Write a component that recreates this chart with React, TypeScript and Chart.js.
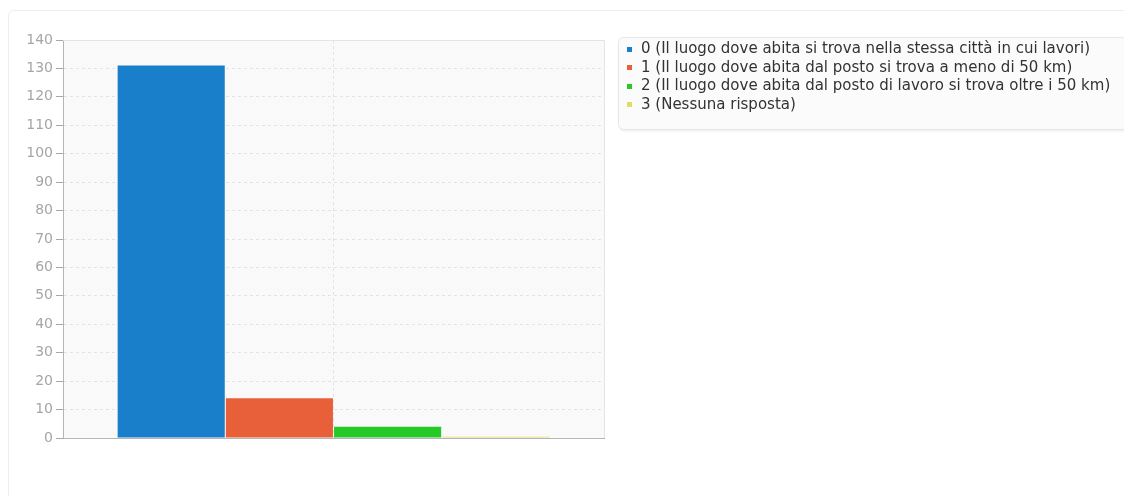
import React, { useEffect, useRef } from "react";
import { Chart, registerables } from "chart.js";

Chart.register(...registerables);

// Survey answers: distance between home and workplace
const categories = [""];
const seriesLabels = [
  "0 (Il luogo dove abita si trova nella stessa città in cui lavori)",
  "1 (Il luogo dove abita dal posto si trova a meno di 50 km)",
  "2 (Il luogo dove abita dal posto di lavoro si trova oltre i 50 km)",
  "3 (Nessuna risposta)",
];
const seriesValues = [131, 14, 4, 0.4];
const seriesColors = ["#1a7fca", "#e8603a", "#27c927", "#e2dc5e"];
const yTickMin = 0;
const yTickMax = 140;
const yTickStep = 10;

const FONT = "'DejaVu Sans', sans-serif";

// Plot background and the light frame on top / right of the plot
const plotFrame = {
  id: "plotFrame",
  beforeDraw(chart: any) {
    const { ctx, chartArea: a } = chart;
    ctx.save();
    ctx.fillStyle = "#fafafa";
    ctx.fillRect(a.left, a.top, a.right - a.left, a.bottom - a.top);
    // faint diagonal hatch
    ctx.beginPath();
    ctx.rect(a.left, a.top, a.right - a.left, a.bottom - a.top);
    ctx.clip();
    ctx.strokeStyle = "rgba(0,0,0,0.01)";
    ctx.lineWidth = 1;
    for (let x = a.left - (a.bottom - a.top); x < a.right; x += 4) {
      ctx.beginPath();
      ctx.moveTo(x, a.bottom);
      ctx.lineTo(x + (a.bottom - a.top), a.top);
      ctx.stroke();
    }
    ctx.restore();
  },
  afterDatasetsDraw(chart: any) {
    const { ctx, chartArea: a } = chart;
    ctx.save();
    ctx.strokeStyle = "#e4e4e4";
    ctx.lineWidth = 1;
    ctx.beginPath();
    ctx.moveTo(a.left, Math.round(a.top) + 0.5);
    ctx.lineTo(Math.round(a.right) + 0.5, Math.round(a.top) + 0.5);
    ctx.lineTo(Math.round(a.right) + 0.5, a.bottom);
    ctx.stroke();
    ctx.restore();
  },
};

// Legend drawn in a rounded box to the right of the plot
const boxedLegend = {
  id: "boxedLegend",
  afterDraw(chart: any) {
    const { ctx } = chart;
    const x0 = 610.5;
    const y0 = 29.5;
    const w = 508;
    const h = 92;
    const r = 5;
    ctx.save();
    ctx.shadowColor = "rgba(0,0,0,0.12)";
    ctx.shadowBlur = 3;
    ctx.shadowOffsetX = 1;
    ctx.shadowOffsetY = 1;
    ctx.beginPath();
    ctx.roundRect(x0, y0, w, h, r);
    ctx.fillStyle = "#fbfbfb";
    ctx.fill();
    ctx.shadowColor = "transparent";
    ctx.strokeStyle = "#e6e6e6";
    ctx.lineWidth = 1;
    ctx.stroke();

    ctx.font = `15px ${FONT}`;
    ctx.textBaseline = "middle";
    ctx.textAlign = "left";
    chart.data.datasets.forEach((ds: any, i: number) => {
      const cy = 41 + i * 18.4;
      ctx.fillStyle = ds.backgroundColor;
      ctx.fillRect(619, Math.round(cy) - 2, 5, 5);
      ctx.fillStyle = "#333333";
      ctx.fillText(ds.label, 633, cy + 0.5);
    });
    ctx.restore();
  },
};

export default function App() {
  const canvasRef = useRef<HTMLCanvasElement | null>(null);

  useEffect(() => {
    if (!canvasRef.current) return;
    const chart = new Chart(canvasRef.current, {
      type: "bar",
      data: {
        labels: categories,
        datasets: seriesLabels.map((label, i) => ({
          label,
          data: [seriesValues[i]],
          backgroundColor: seriesColors[i],
          borderWidth: 0,
          categoryPercentage: 0.8,
          barPercentage: 0.99,
        })),
      },
      options: {
        animation: false,
        responsive: false,
        maintainAspectRatio: false,
        layout: { padding: { top: 32, right: 528, bottom: 56, left: 0 } },
        plugins: {
          legend: { display: false },
          tooltip: { enabled: false },
        },
        scales: {
          x: {
            ticks: { display: false },
            grid: {
              offset: false,
              drawTicks: false,
              color: "#e3e3e3",
            },
            border: { color: "#b5b5b5", width: 1, dash: [3, 3] },
            afterFit(scale: any) {
              scale.height = 0;
            },
          },
          y: {
            min: yTickMin,
            max: yTickMax,
            ticks: {
              stepSize: yTickStep,
              color: "#a6a6a6",
              font: { family: FONT, size: 14 },
              padding: 3,
            },
            grid: {
              color: "#e3e3e3",
              tickColor: "#a8a8a8",
              tickLength: 7,
              tickBorderDash: [],
            },
            border: { color: "#b5b5b5", width: 1, dash: [3, 3] },
            afterFit(scale: any) {
              scale.width = 55;
            },
          },
        },
      },
      plugins: [plotFrame, boxedLegend],
    });
    return () => chart.destroy();
  }, []);

  return (
    <div style={{ position: "relative", width: 1124, height: 488, overflow: "hidden" }}>
      <div
        style={{
          position: "absolute",
          left: 0,
          top: 2,
          width: 1140,
          height: 490,
          border: "1px solid #ededed",
          borderRadius: 6,
          boxSizing: "border-box",
        }}
      />
      <canvas
        ref={canvasRef}
        width={1124}
        height={486}
        style={{ position: "absolute", left: 0, top: 0, width: 1124, height: 486 }}
      />
    </div>
  );
}
